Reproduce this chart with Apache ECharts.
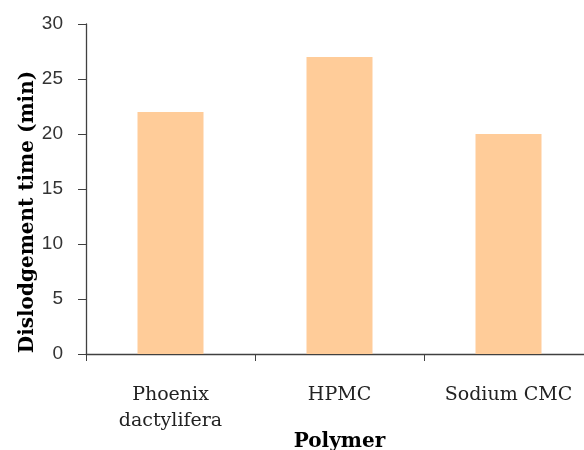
<!DOCTYPE html>
<html>
<head>
<meta charset="utf-8">
<script src="https://cdn.jsdelivr.net/npm/echarts@6/dist/echarts.min.js"></script>
<style>html,body{margin:0;padding:0;background:#fff}#c{width:584px;height:450px}</style>
</head>
<body>
<div id="c"></div>
<script>
const categories = ['Phoenix\ndactylifera', 'HPMC', 'Sodium CMC'];
const values = [22, 27, 20];
const yTicks = { min: 0, max: 30, interval: 5 };

const chart = echarts.init(document.getElementById('c'), null, { renderer: 'canvas' });
chart.setOption({
  animation: false,
  backgroundColor: '#ffffff',
  grid: { left: 86, top: 24, right: -9, bottom: 96, containLabel: false, outerBoundsMode: 'none' },
  xAxis: {
    type: 'category',
    data: categories,
    name: 'Polymer',
    nameLocation: 'middle',
    nameGap: 78,
    nameMoveOverlap: false,
    nameTextStyle: { fontFamily: 'DejaVu Serif', fontWeight: 'bold', fontSize: 20, color: '#000' },
    axisLine: { lineStyle: { color: '#404040', width: 1.3 } },
    axisTick: { show: true, length: 7, alignWithLabel: false, lineStyle: { color: '#404040' } },
    axisLabel: { fontFamily: 'DejaVu Serif', fontSize: 19, color: '#222', margin: 28, lineHeight: 26 }
  },
  yAxis: {
    type: 'value',
    min: yTicks.min, max: yTicks.max, interval: yTicks.interval,
    name: 'Dislodgement time (min)',
    nameLocation: 'middle',
    nameGap: 48,
    nameMoveOverlap: false,
    nameRotate: 90,
    nameTextStyle: { fontFamily: 'DejaVu Serif', fontWeight: 'bold', fontSize: 20, color: '#000', padding: [0, 46, 0, 0] },
    axisLine: { show: true, lineStyle: { color: '#404040', width: 1.3 } },
    axisTick: { show: true, length: 8, lineStyle: { color: '#404040' } },
    axisLabel: { fontFamily: 'Liberation Sans', fontSize: 19, color: '#333', margin: 23 },
    splitLine: { show: false }
  },
  series: [{
    type: 'bar',
    data: values,
    barWidth: 66,
    itemStyle: { color: '#FFCC99' }
  }]
});
</script>
</body>
</html>
